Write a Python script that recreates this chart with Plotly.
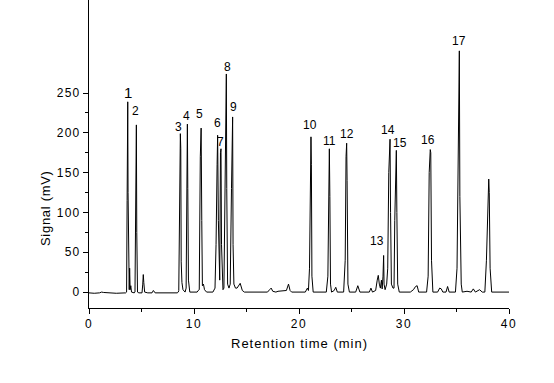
import plotly.graph_objects as go

# Chromatogram trace (time in min, signal in mV)
time_min = [
    0.0, 0.5, 1.0, 1.2, 1.4, 2.0, 2.4, 2.6, 3.5,
    3.58, 3.63, 3.69, 3.72, 3.76, 3.80, 3.83, 3.87, 3.92, 3.98, 4.05, 4.3,
    4.38, 4.44, 4.51, 4.55, 4.62, 4.75, 5.05, 5.12, 5.17, 5.22, 5.3, 5.6, 6.0, 6.13, 6.3, 8.4, 8.5,
    8.55, 8.62, 8.70, 8.74, 8.78, 8.85, 8.95, 9.15,
    9.25, 9.31, 9.37, 9.41, 9.47, 9.6, 10.3, 10.4,
    10.5, 10.6, 10.68, 10.74, 10.8, 10.9, 11.0, 11.2, 11.8,
    12.0, 12.1, 12.2, 12.25, 12.32, 12.38, 12.45, 12.52, 12.57, 12.62, 12.7, 12.76,
    12.85, 12.95, 13.02, 13.08, 13.12, 13.2, 13.33,
    13.45, 13.57, 13.63, 13.68, 13.72, 13.8, 13.95, 14.1, 14.4, 14.6, 14.8,
    17.0, 17.2, 17.35, 17.5, 17.8, 18.0, 18.8, 19.0, 19.15, 19.3,
    20.6, 20.8, 20.9, 21.0, 21.08, 21.14, 21.18, 21.23, 21.35,
    22.6, 22.75, 22.82, 22.89, 22.94, 23.0, 23.1, 23.35, 23.5, 23.65,
    24.25, 24.4, 24.48, 24.54, 24.58, 24.66, 24.8, 25.4, 25.6, 25.8,
    26.7, 26.85, 27.0, 27.3, 27.45, 27.55, 27.65, 27.75, 27.85, 27.92,
    28.0, 28.06, 28.1, 28.2, 28.35, 28.45, 28.55, 28.62, 28.67, 28.72, 28.8, 28.95,
    29.05, 29.12, 29.2, 29.27, 29.32, 29.4, 29.55,
    30.6, 30.9, 31.1, 31.25, 31.4, 32.15,
    32.3, 32.4, 32.5, 32.55, 32.62, 32.75, 33.2, 33.4, 33.55, 33.7, 34.0, 34.15, 34.3,
    34.9, 35.05, 35.15, 35.22, 35.27, 35.32, 35.45, 35.55, 36.0, 36.4, 36.6, 36.8,
    37.0, 37.2, 37.45, 37.7, 37.85, 37.95, 38.02, 38.07, 38.12, 38.2, 38.35, 40.0,
]
signal_mv = [
    -1, -1.5, -1, 0, -0.5, -1, -0.5, -1.5, -1,
    0, 115, 239, 125, 5, 25, 3, 30, 3, 8, 0, -1,
    0, 185, 210, 75, 0, -1, -1, 10, 22, 12, 0, -1, -1, 2, -1, -1, 0,
    2, 75, 199, 180, 38, 12, 3, 0,
    5, 175, 211, 130, 15, 0, 0, 2,
    3, 170, 206, 90, 8, 10, 3, 0, 0,
    5, 60, 160, 197, 90, 15, 15, 175, 180, 60, 8, 3,
    5, 120, 250, 274, 130, 10, 5,
    10, 130, 180, 220, 60, 10, 5, 5, 11, 2, 0,
    0, 3, 5, 1, 0, 1, 2, 10, 2, 0,
    0, 5, 2, 30, 150, 195, 160, 20, 0,
    0, 20, 150, 180, 120, 10, 0, 2, 6, 0,
    0, 40, 170, 187, 140, 10, 0, 0, 8, 0,
    0, 5, 0, 2, 15, 21, 10, 5, 15, 4,
    20, 46, 10, 3, 10, 30, 150, 185, 192, 100, 10, 5,
    5, 90, 150, 178, 100, 10, 0,
    0, 3, 7, 8, 0, 0,
    20, 150, 179, 175, 40, 0, 0, 5, 4, 0, 0, 7, 0,
    0, 30, 150, 290, 303, 120, 10, 0, 1, 0, 4, 0,
    1, 3, 0, 0, 40, 100, 140, 142, 125, 30, 0, 0,
]

# Peak labels
peak_labels = ["1", "2", "3", "4", "5", "6", "7", "8", "9",
               "10", "11", "12", "13", "14", "15", "16", "17"]
label_x = [3.69, 4.44, 8.48, 9.24, 10.57, 12.22, 12.54, 13.17, 13.75,
           21.05, 22.89, 24.54, 27.46, 28.44, 29.62, 32.29, 35.24]
label_y = [251, 227, 208, 221.5, 224, 213, 189, 283, 232,
           210, 190, 198.5, 64.4, 204, 187, 190.5, 315]

x_ticks = [0, 10, 20, 30, 40]
x_tick_labels = ["0", "10", "20", "30", "40"]
x_minor = [5, 15, 25, 35]
y_ticks = [0, 50, 100, 150, 200, 250]
y_tick_labels = ["0", "50", "100", "150", "200", "250"]
y_minor = [25, 75, 125, 175, 225]

x_title = "Retention time (min)"
y_title = "Signal (mV)"

FONT = "Arial, Liberation Sans, sans-serif"
W, H = 554, 383
ML, MR, MT, MB = 89, 45, 0, 75
plot_w = W - ML - MR
plot_h = H - MT - MB


def spaced(s, px):
    return f'<span style="letter-spacing:{px}px">{s}</span>'


fig = go.Figure()
fig.add_trace(go.Scatter(x=time_min, y=signal_mv, mode="lines",
                         line=dict(color="black", width=1), hoverinfo="skip",
                         showlegend=False))

for i, (t, xv, yv) in enumerate(zip(peak_labels, label_x, label_y)):
    fig.add_annotation(x=xv, y=yv, xref="x", yref="y", text=t, showarrow=False,
                       font=dict(family=FONT, size=15 if i == 0 else 12, color="black"),
                       xanchor="center", yanchor="middle")

fig.add_annotation(x=(45 - ML) / plot_w, y=(plot_h - 208) / plot_h,
                   xref="paper", yref="paper", text=spaced(y_title, 0.7),
                   showarrow=False, textangle=-90, xanchor="center", yanchor="middle",
                   font=dict(family=FONT, size=13, color="black"))

fig.add_annotation(x=0.5, y=-(343.3 - plot_h) / plot_h,
                   xref="paper", yref="paper", text=spaced(x_title, 1),
                   showarrow=False, xanchor="center", yanchor="middle",
                   font=dict(family=FONT, size=13, color="black"))

fig.update_layout(
    width=W, height=H,
    margin=dict(l=ML, r=MR, t=MT, b=MB, pad=0),
    paper_bgcolor="white", plot_bgcolor="white",
    font=dict(family=FONT, size=12, color="black"),
    xaxis=dict(range=[0, 40], tickmode="array", tickvals=x_ticks,
               ticktext=[spaced(s, 1.5) for s in x_tick_labels],
               ticks="outside", ticklen=5,
               tickwidth=1, tickcolor="black", showline=True, linecolor="black",
               linewidth=1, showgrid=False, zeroline=False,
               tickfont=dict(family=FONT, size=12, color="black"),
               minor=dict(tickvals=x_minor, ticks="outside", ticklen=3,
                          tickcolor="black", tickwidth=1, showgrid=False)),
    yaxis=dict(range=[-20, 366.9], tickmode="array", tickvals=y_ticks,
               ticktext=[spaced(s, 1.3) for s in y_tick_labels],
               ticks="outside", ticklen=5,
               tickwidth=1, tickcolor="black", showline=True, linecolor="black",
               linewidth=1, showgrid=False, zeroline=False,
               tickfont=dict(family=FONT, size=12, color="black"),
               minor=dict(tickvals=y_minor, ticks="outside", ticklen=3,
                          tickcolor="black", tickwidth=1, showgrid=False)),
)

fig.write_html("out.html", config={"displayModeBar": False},
               post_script="document.body.style.margin='0';")
